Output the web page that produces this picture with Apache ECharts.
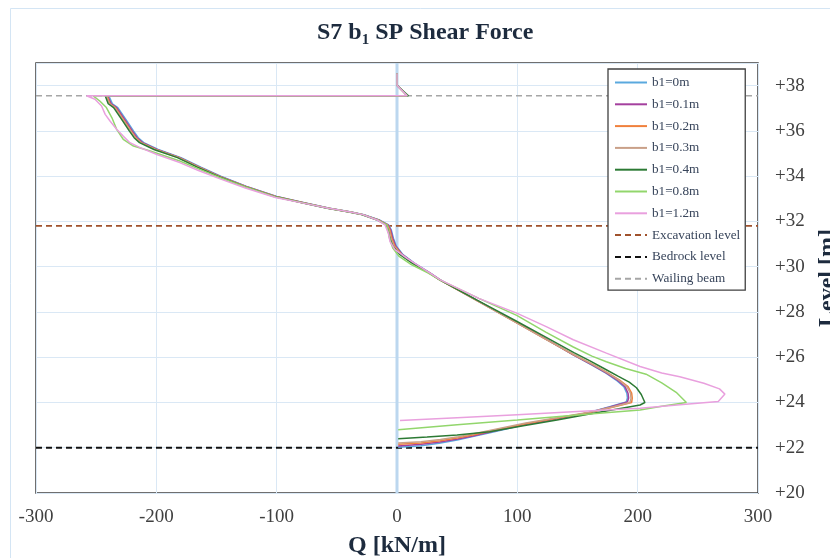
<!DOCTYPE html>
<html>
<head>
<meta charset="utf-8">
<script src="https://cdn.jsdelivr.net/npm/echarts@6/dist/echarts.min.js"></script>
<style>
  html, body { margin: 0; padding: 0; background: #fff; }
  #chart { width: 830px; height: 558px; }
</style>
</head>
<body>
<div id="chart"></div>
<script>
// Q [kN/m] vs level [m]
const curveNames = ['b1=0m', 'b1=0.1m', 'b1=0.2m', 'b1=0.3m', 'b1=0.4m', 'b1=0.8m', 'b1=1.2m'];
const curveColors = ['#5aa9de', '#a4409e', '#f0803c', '#c9a088', '#2c7a34', '#92d66c', '#e9a0de'];

const b1_0 = [[0,38.55],[0,38.02],[8.5,37.55],[-239.5,37.55],[-236.5,37.2],[-232,37.03],[-224.5,36.44],[-219,36.0],[-215,35.7],[-210.5,35.48],[-198.5,35.18],[-179.5,34.82],[-163,34.4],[-146.5,34.0],[-125,33.55],[-100,33.1],[-78,32.84],[-56,32.58],[-38,32.42],[-27.5,32.3],[-14,32.05],[-7,31.85],[-4.8,31.63],[-3,31.26],[-0.5,30.9],[5,30.53],[14.5,30.16],[27.8,29.72],[36,29.42],[67,28.5],[99,27.55],[124,26.8],[146.5,26.1],[162,25.65],[174,25.29],[183,24.95],[188.5,24.7],[191,24.41],[191.5,24.2],[190.5,24.02],[176,23.8],[157,23.52],[131,23.25],[105,23.0],[80,22.7],[62,22.48],[50,22.34],[35,22.2],[20,22.09],[1,22.02]];
const b1_01 = [[0,38.55],[0,38.02],[8.5,37.55],[-240.5,37.55],[-237.5,37.2],[-233,37.03],[-225.5,36.44],[-220,36.0],[-216,35.7],[-211.5,35.48],[-199.5,35.18],[-180.5,34.82],[-164,34.4],[-147.5,34.0],[-125.5,33.55],[-100.5,33.1],[-78.5,32.84],[-56.5,32.58],[-38.5,32.42],[-28,32.3],[-14.5,32.05],[-7.5,31.85],[-5.3,31.63],[-3.5,31.26],[-1,30.9],[4.5,30.53],[14,30.16],[27.5,29.72],[35.8,29.42],[66.8,28.5],[98.8,27.55],[123.8,26.8],[146.5,26.1],[162.5,25.65],[174.5,25.29],[184,24.95],[189.5,24.7],[192,24.41],[192.5,24.2],[191.5,24.02],[177,23.8],[158,23.53],[132,23.27],[106,23.03],[81,22.74],[63,22.52],[50.5,22.39],[35.5,22.25],[20,22.15],[1,22.08]];
const b1_02 = [[0,38.55],[0,38.02],[8.5,37.55],[-241,37.55],[-238.5,37.2],[-234,37.03],[-226.5,36.44],[-221,36.0],[-217,35.7],[-212.5,35.48],[-200.5,35.18],[-181,34.82],[-164.5,34.4],[-148,34.0],[-126,33.55],[-101,33.1],[-79,32.84],[-57,32.58],[-39,32.42],[-28.5,32.3],[-15,32.05],[-8,31.85],[-6,31.63],[-4.3,31.26],[-1.8,30.9],[4,30.53],[13.5,30.16],[27.2,29.72],[35.6,29.42],[66.5,28.5],[98.5,27.55],[123.5,26.8],[146.5,26.12],[163,25.67],[175.5,25.3],[186,24.95],[192,24.7],[195,24.41],[195.5,24.19],[195,24.0],[180,23.8],[160,23.56],[133,23.3],[107,23.06],[82,22.78],[64,22.57],[51,22.44],[36,22.31],[20,22.21],[1,22.15]];
const b1_03 = [[0,38.55],[0,38.02],[8.5,37.55],[-241.5,37.55],[-239,37.2],[-234.5,37.03],[-227,36.44],[-221.5,36.0],[-217.5,35.7],[-213,35.48],[-201,35.18],[-181.5,34.82],[-165,34.4],[-148.5,34.0],[-126.5,33.55],[-101.5,33.1],[-79.5,32.84],[-57.5,32.58],[-39.5,32.42],[-29,32.3],[-15.5,32.05],[-8.5,31.85],[-6.6,31.63],[-5,31.26],[-2.5,30.9],[3.5,30.53],[13,30.16],[27,29.72],[35.5,29.42],[66.3,28.5],[98.3,27.55],[123.3,26.8],[146.5,26.13],[162.5,25.68],[175,25.31],[185,24.96],[191,24.7],[194,24.41],[194.5,24.18],[193.5,24.0],[179,23.8],[159.5,23.57],[133,23.32],[107,23.09],[82,22.82],[64,22.62],[51,22.49],[36,22.36],[20,22.26],[1,22.21]];
const b1_04 = [[0,38.55],[0,38.02],[9.5,37.55],[-242.5,37.55],[-240,37.2],[-235.5,37.03],[-228,36.44],[-222.5,36.0],[-218.5,35.7],[-214,35.48],[-202,35.18],[-182.5,34.82],[-166,34.4],[-149,34.0],[-127,33.55],[-102,33.1],[-80,32.84],[-58,32.58],[-40,32.42],[-29.5,32.3],[-16,32.05],[-9,31.85],[-7.5,31.63],[-6,31.26],[-3.5,30.9],[2.5,30.53],[12.5,30.16],[26.8,29.72],[35.5,29.42],[66.5,28.52],[99,27.6],[124,26.88],[147,26.2],[160,25.85],[172,25.5],[184,25.15],[193,24.9],[199,24.65],[203,24.35],[206,24.0],[202,23.89],[168,23.57],[133,23.23],[105,22.97],[77,22.71],[50,22.56],[25,22.47],[1,22.4]];
const b1_08 = [[0,38.55],[0,38.02],[8.5,37.55],[-252.5,37.55],[-247,37.32],[-241.5,37.03],[-237,36.59],[-233,36.07],[-227.5,35.63],[-219,35.33],[-205,35.11],[-180.5,34.67],[-164,34.3],[-148,33.95],[-126,33.52],[-101,33.08],[-79,32.83],[-57,32.58],[-39,32.42],[-28.5,32.3],[-15.5,32.05],[-8.5,31.85],[-7.5,31.6],[-6,31.2],[-3.5,30.82],[1.5,30.47],[11,30.12],[26,29.72],[35.5,29.42],[68,28.6],[99.5,27.85],[124,27.1],[146.5,26.45],[162,26.05],[174,25.8],[190,25.5],[207,25.25],[220,24.87],[232,24.45],[240.5,24.0],[220,23.83],[202,23.67],[150,23.45],[100,23.23],[50,23.02],[1,22.8]];
const b1_12 = [[0,38.55],[0,38.02],[8.5,37.55],[-258,37.55],[-251,37.4],[-245.5,37.1],[-242.5,36.73],[-238.5,36.44],[-233,36.07],[-227.5,35.77],[-222,35.48],[-213.5,35.26],[-199.5,34.96],[-180.5,34.6],[-165,34.25],[-147,33.88],[-126,33.48],[-101,33.06],[-79,32.82],[-57,32.58],[-39,32.42],[-28.5,32.3],[-16,32.05],[-10,31.85],[-7.2,31.48],[-5.8,31.11],[-1.7,30.75],[8,30.38],[19,30.0],[28.5,29.68],[36,29.42],[68,28.6],[99.5,27.95],[124,27.35],[146.5,26.77],[174,26.18],[202,25.59],[220,25.3],[235,25.14],[255,24.85],[268,24.6],[272.5,24.37],[267,24.04],[240,23.92],[202,23.75],[150,23.6],[100,23.46],[50,23.33],[2.5,23.2]];
const curves = [b1_0, b1_01, b1_02, b1_03, b1_04, b1_08, b1_12];

// reference levels [m]
const refNames = ['Excavation level', 'Bedrock level', 'Wailing beam'];
const refLevels = [31.8, 22.0, 37.55];
const refColors = ['#a0522d', '#111111', '#a6a6a6'];
const refWidths = [1.8, 1.8, 1.5];

const xMin = -300, xMax = 300, xStep = 100;
const yMin = 20, yMax = 39, yStep = 2;

const serif = 'Liberation Serif, Times New Roman, serif';
const chart = echarts.init(document.getElementById('chart'));

const series = [];
// zero line of the Q axis
series.push({
  type: 'line', silent: true, symbol: 'none', z: 1,
  data: [[0, yMin], [0, yMax]],
  lineStyle: { color: '#bcd7ef', width: 3 }
});
refNames.forEach((name, i) => {
  series.push({
    name, type: 'line', symbol: 'none', z: 2,
    data: [[xMin, refLevels[i]], [xMax, refLevels[i]]],
    lineStyle: { color: refColors[i], width: refWidths[i], type: [6, 4] },
    itemStyle: { color: refColors[i] }
  });
});
curveNames.forEach((name, i) => {
  series.push({
    name, type: 'line', symbol: 'none', showSymbol: false, z: 3,
    data: curves[i],
    lineStyle: { color: curveColors[i], width: 1.5 },
    itemStyle: { color: curveColors[i] }
  });
});

chart.setOption({
  animation: false,
  backgroundColor: '#fff',
  graphic: [{
    type: 'rect', silent: true,
    shape: { x: 10.5, y: 8.5, width: 900, height: 700 },
    style: { fill: 'none', stroke: '#d4e5f4', lineWidth: 1 }
  }],
  title: {
    left: 312, top: 13,
    text: '{a|S7 b}{s|1}{a| SP Shear Force}',
    textStyle: {
      rich: {
        a: { fontFamily: serif, fontWeight: 'bold', fontSize: 24, color: '#1d2b3e', lineHeight: 30, verticalAlign: 'middle' },
        s: { fontFamily: serif, fontWeight: 'bold', fontSize: 15, color: '#1d2b3e', lineHeight: 15, verticalAlign: 'bottom' }
      }
    }
  },
  grid: {
    left: 36, top: 63, right: 72, bottom: 65,
    outerBoundsMode: 'none', containLabel: false,
    show: true, borderColor: '#404040', borderWidth: 1.5
  },
  legend: {
    orient: 'vertical', left: 608, top: 69,
    data: curveNames.concat(refNames),
    itemWidth: 32, itemHeight: 14, itemGap: 8.8,
    padding: [7, 5, 5, 6],
    itemStyle: { opacity: 0 },
    borderColor: '#404040', borderWidth: 1.3, backgroundColor: '#fff',
    textStyle: { fontFamily: serif, fontSize: 13.2, color: '#37445a' }
  },
  xAxis: {
    type: 'value', min: xMin, max: xMax, interval: xStep,
    name: 'Q [kN/m]', nameLocation: 'middle', nameGap: 41,
    nameTextStyle: { fontFamily: serif, fontWeight: 'bold', fontSize: 24, color: '#1d2b3e' },
    axisLine: { show: false }, axisTick: { show: false },
    axisLabel: { fontFamily: serif, fontSize: 19, color: '#404040', margin: 15 },
    splitLine: { lineStyle: { color: '#dae8f5', width: 1 } }
  },
  yAxis: {
    type: 'value', position: 'right', min: yMin, max: yMax, interval: yStep,
    name: 'Level [m]', nameLocation: 'middle', nameRotate: 90, nameGap: 52,
    nameTextStyle: { fontFamily: serif, fontWeight: 'bold', fontSize: 24, color: '#1d2b3e' },
    axisLine: { show: false }, axisTick: { show: false },
    axisLabel: { fontFamily: serif, fontSize: 19, color: '#404040', margin: 17, showMaxLabel: false,
      formatter: v => '+' + v },
    splitLine: { lineStyle: { color: '#dae8f5', width: 1 } }
  },
  series
});
</script>
</body>
</html>
